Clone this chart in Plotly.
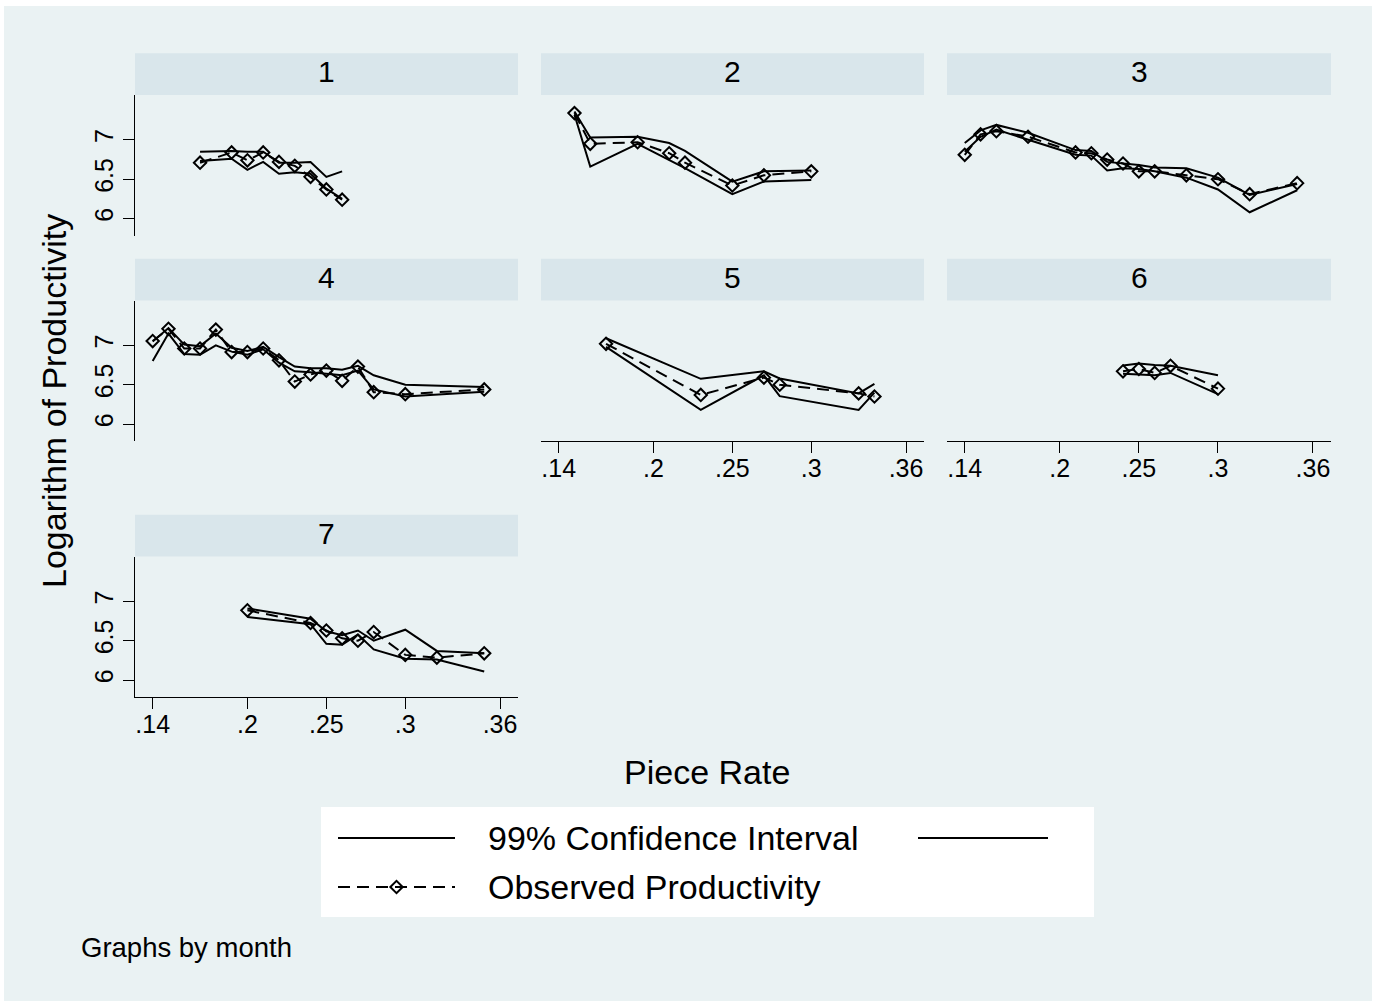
import plotly.graph_objects as go

W, H = 1376, 1005

# Piece rate (x) and log productivity (y) by month: observed values and
# the upper / lower bounds of the 99% confidence interval.
rate1 = [.17, .19, .20, .21, .22, .23, .24, .25, .26]
obs1 = [6.71, 6.84, 6.74, 6.84, 6.72, 6.67, 6.53, 6.37, 6.24]
hi1 = [6.85, 6.86, 6.85, 6.85, 6.71, 6.71, 6.72, 6.53, 6.60]
lo1 = [6.73, 6.76, 6.62, 6.72, 6.57, 6.59, 6.57, 6.38, 6.25]

rate2 = [.15, .16, .19, .21, .22, .25, .27, .30]
obs2 = [7.34, 6.95, 6.97, 6.83, 6.71, 6.42, 6.55, 6.60]
hi2 = [7.36, 7.03, 7.04, 6.96, 6.86, 6.47, 6.60, 6.61]
lo2 = [7.32, 6.66, 6.95, 6.75, 6.64, 6.31, 6.47, 6.49]

rate3 = [.14, .15, .16, .18, .21, .22, .23, .24, .25, .26, .28, .30, .32, .35]
obs3 = [6.81, 7.07, 7.11, 7.04, 6.84, 6.83, 6.75, 6.70, 6.60, 6.60, 6.55, 6.50, 6.31, 6.45]
hi3 = [6.96, 7.12, 7.19, 7.09, 6.87, 6.86, 6.72, 6.70, 6.68, 6.65, 6.64, 6.52, 6.30, 6.44]
lo3 = [6.85, 7.04, 7.13, 7.00, 6.81, 6.80, 6.61, 6.64, 6.63, 6.60, 6.52, 6.37, 6.08, 6.36]

rate4 = [.14, .15, .16, .17, .18, .19, .20, .21, .22, .23, .24, .25, .26, .27, .28, .30, .35]
obs4 = [7.055, 7.21, 6.96, 6.96, 7.20, 6.915, 6.915, 6.96, 6.81, 6.54, 6.63, 6.68, 6.55, 6.73, 6.405, 6.38, 6.44]
hi4 = [7.05, 7.22, 7.01, 6.99, 7.15, 6.97, 6.93, 6.98, 6.85, 6.73, 6.71, 6.71, 6.69, 6.74, 6.62, 6.50, 6.47]
lo4 = [6.80, 7.15, 6.89, 6.88, 7.00, 6.92, 6.88, 6.95, 6.78, 6.67, 6.66, 6.64, 6.62, 6.68, 6.44, 6.35, 6.41]

rate5 = [.17, .23, .27, .28, .33, .34]
obs5 = [7.02, 6.37, 6.59, 6.50, 6.39, 6.35]
hi5 = [7.09, 6.575, 6.67, 6.58, 6.39, 6.51]
lo5 = [6.98, 6.18, 6.62, 6.355, 6.18, 6.40]

rate6 = [.24, .25, .26, .27, .30]
obs6 = [6.67, 6.70, 6.65, 6.74, 6.45]
hi6 = [6.745, 6.77, 6.75, 6.74, 6.62]
lo6 = [6.64, 6.63, 6.62, 6.65, 6.38]

rate7 = [.20, .24, .25, .26, .27, .28, .30, .32, .35]
obs7 = [6.886, 6.725, 6.63, 6.53, 6.50, 6.61, 6.32, 6.285, 6.34]
hi7 = [6.91, 6.78, 6.62, 6.57, 6.63, 6.50, 6.64, 6.37, 6.34]
lo7 = [6.80, 6.71, 6.46, 6.45, 6.58, 6.39, 6.27, 6.26, 6.11]

months = [1, 2, 3, 4, 5, 6, 7]
panels = {
    1: (rate1, obs1, hi1, lo1),
    2: (rate2, obs2, hi2, lo2),
    3: (rate3, obs3, hi3, lo3),
    4: (rate4, obs4, hi4, lo4),
    5: (rate5, obs5, hi5, lo5),
    6: (rate6, obs6, hi6, lo6),
    7: (rate7, obs7, hi7, lo7),
}

x_ticks = [.14, .2, .25, .3, .36]
x_tick_text = [".14", ".2", ".25", ".3", ".36"]
y_ticks = [6, 6.5, 7]
y_tick_text = ["6", "6.5", "7"]

# ---- layout geometry (pixels) ----
BG = "#EAF2F3"
STRIP = "#D9E6EB"
FONT = "Liberation Sans, Arial, Helvetica, sans-serif"
col_x = [(135, 518), (541, 924), (947, 1331)]
row_y = [(95, 235.5), (300.5, 441), (556.5, 697)]
strip_h = 41.7
X_RANGE = [.1288, .3714]
Y_RANGE = [5.785, 7.57]


def px_x(p):
    return p / W


def px_y(p):
    return 1 - p / H


fig = go.Figure()
layout = dict(
    width=W, height=H,
    margin=dict(l=0, r=0, t=0, b=0),
    paper_bgcolor="white",
    plot_bgcolor="rgba(0,0,0,0)",
    showlegend=False,
    font=dict(family=FONT, color="black"),
    shapes=[], annotations=[],
)

# outer graph region
layout["shapes"].append(dict(
    type="rect", xref="paper", yref="paper", layer="below",
    x0=px_x(4), x1=px_x(1372), y0=px_y(1001), y1=px_y(6),
    fillcolor=BG, line=dict(width=0)))

line_style = dict(color="black", width=2)
for i, m in enumerate(months):
    r, c = divmod(i, 3)
    x0, x1 = col_x[c]
    y0, y1 = row_y[r]
    sfx = "" if i == 0 else str(i + 1)
    show_x = m in (5, 6, 7)
    show_y = c == 0
    layout["xaxis" + sfx] = dict(
        domain=[px_x(x0), px_x(x1)], range=X_RANGE,
        anchor="y" + sfx, showgrid=False, zeroline=False,
        showline=show_x, linecolor="black", linewidth=1.3,
        ticks="outside" if show_x else "", ticklen=11, tickwidth=1.3,
        tickcolor="black", tickvals=x_ticks, ticktext=x_tick_text,
        showticklabels=show_x, ticklabelstandoff=-6,
        tickfont=dict(size=25, family=FONT), fixedrange=True)
    layout["yaxis" + sfx] = dict(
        domain=[px_y(y1), px_y(y0)], range=Y_RANGE,
        anchor="x" + sfx, showgrid=False, zeroline=False,
        showline=show_y, linecolor="black", linewidth=1.3,
        ticks="outside" if show_y else "", ticklen=11, tickwidth=1.3,
        tickcolor="black", tickvals=y_ticks, ticktext=y_tick_text,
        showticklabels=show_y, tickangle=-90,
        tickfont=dict(size=25, family=FONT), fixedrange=True)

    # subtitle strip for the month
    layout["shapes"].append(dict(
        type="rect", xref="paper", yref="paper", layer="below",
        x0=px_x(x0), x1=px_x(x1), y0=px_y(y0), y1=px_y(y0 - strip_h),
        fillcolor=STRIP, line=dict(width=0)))
    layout["annotations"].append(dict(
        text=str(m), xref="paper", yref="paper",
        x=px_x((x0 + x1) / 2), y=px_y(y0 - strip_h / 2 - 2.5),
        xanchor="center", yanchor="middle", showarrow=False,
        font=dict(size=30, family=FONT)))

    rate, obs, hi, lo = panels[m]
    xa, ya = "x" + sfx, "y" + sfx
    fig.add_trace(go.Scatter(x=rate, y=hi, mode="lines", line=line_style,
                             xaxis=xa, yaxis=ya, hoverinfo="skip"))
    fig.add_trace(go.Scatter(x=rate, y=lo, mode="lines", line=line_style,
                             xaxis=xa, yaxis=ya, hoverinfo="skip"))
    fig.add_trace(go.Scatter(
        x=rate, y=obs, mode="lines+markers",
        line=dict(color="black", width=2, dash="12px,7px"),
        marker=dict(symbol="diamond-open", size=9.5, color="black",
                    line=dict(width=2, color="black")),
        xaxis=xa, yaxis=ya))

# axis titles
layout["annotations"].append(dict(
    text="Piece Rate", xref="paper", yref="paper",
    x=px_x(707), y=px_y(772), xanchor="center", yanchor="middle",
    showarrow=False, font=dict(size=34, family=FONT)))
layout["annotations"].append(dict(
    text="Logarithm of Productivity", xref="paper", yref="paper",
    x=px_x(54), y=px_y(401), xanchor="center", yanchor="middle",
    textangle=-90, showarrow=False, font=dict(size=34, family=FONT)))

# legend box and keys
LX0, LX1, LY0, LY1 = 321, 1094, 807, 917
layout["shapes"].append(dict(
    type="rect", xref="paper", yref="paper", layer="below",
    x0=px_x(LX0), x1=px_x(LX1), y0=px_y(LY1), y1=px_y(LY0),
    fillcolor="white", line=dict(width=0)))
layout["xaxis8"] = dict(domain=[px_x(LX0), px_x(LX1)], range=[LX0, LX1],
                        anchor="y8", visible=False, fixedrange=True)
layout["yaxis8"] = dict(domain=[px_y(LY1), px_y(LY0)], range=[LY1, LY0],
                        anchor="x8", visible=False, fixedrange=True)
row1_y, row2_y = 838, 887
fig.add_trace(go.Scatter(x=[338, 455], y=[row1_y, row1_y], mode="lines",
                         line=line_style, xaxis="x8", yaxis="y8", hoverinfo="skip"))
fig.add_trace(go.Scatter(x=[918, 1048], y=[row1_y, row1_y], mode="lines",
                         line=line_style, xaxis="x8", yaxis="y8", hoverinfo="skip"))
fig.add_trace(go.Scatter(x=[338, 455], y=[row2_y, row2_y], mode="lines",
                         line=dict(color="black", width=2, dash="12px,7px"),
                         xaxis="x8", yaxis="y8", hoverinfo="skip"))
fig.add_trace(go.Scatter(x=[396.5], y=[row2_y], mode="markers",
                         marker=dict(symbol="diamond-open", size=9.5, color="black",
                                     line=dict(width=2, color="black")),
                         xaxis="x8", yaxis="y8", hoverinfo="skip"))
layout["annotations"].append(dict(
    text="99% Confidence Interval", xref="paper", yref="paper",
    x=px_x(486), y=px_y(row1_y), xanchor="left", yanchor="middle",
    showarrow=False, font=dict(size=34, family=FONT)))
layout["annotations"].append(dict(
    text="Observed Productivity", xref="paper", yref="paper",
    x=px_x(486), y=px_y(row2_y), xanchor="left", yanchor="middle",
    showarrow=False, font=dict(size=34, family=FONT)))

# note
layout["annotations"].append(dict(
    text="Graphs by month", xref="paper", yref="paper",
    x=px_x(79), y=px_y(947), xanchor="left", yanchor="middle",
    showarrow=False, font=dict(size=27.5, family=FONT)))

fig.update_layout(**layout)
fig.write_html("out.html")
